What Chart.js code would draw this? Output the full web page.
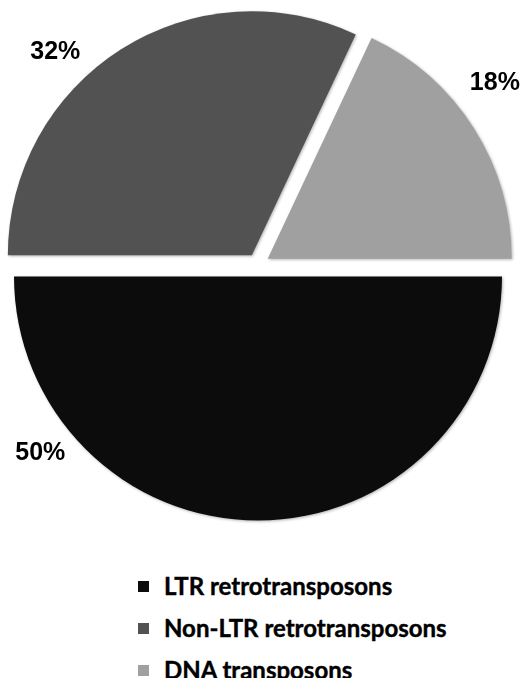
<!DOCTYPE html>
<html>
<head>
<meta charset="utf-8">
<script src="https://cdn.jsdelivr.net/npm/chart.js@4.4.0/dist/chart.umd.min.js"></script>
<style>
  html, body { margin: 0; padding: 0; background: #fff; width: 528px; height: 678px; overflow: hidden; position: relative; }
  #chart { position: absolute; left: -7px; top: 0px; }
  #legend { position: absolute; left: 138px; top: 565px; font-family: Lato, "Open Sans", sans-serif; font-weight: bold; font-size: 24px; color: #000; -webkit-text-stroke: 0.4px #000; }
  #legend .row { height: 42px; line-height: 42px; display: flex; align-items: center; }
  #legend .box { width: 11px; height: 11px; margin-right: 15px; }
</style>
</head>
<body>
<canvas id="chart" width="530" height="530"></canvas>
<div id="legend"></div>
<script>
// categories and values
var labels = ['LTR retrotransposons', 'Non-LTR retrotransposons', 'DNA transposons'];
var values = [50, 32, 18];
var colors = ['#0c0c0c', '#525252', '#a0a0a0'];

var ctx = document.getElementById('chart');

// where each percentage sits: fraction along the slice, distance in radii
var label_spots = [[0.773, 1.18], [0.403, 1.205], [0.42, 1.225]];

// pulls every slice out along its middle angle by the same distance
var explode = {
    id: 'explode',
    beforeDatasetDraw: function(chart, args, opts){
        let c = chart.ctx;
        let arcs = args.meta.data;
        for (let i=0; i<arcs.length; i++){
            let p = arcs[i].getProps(['startAngle', 'endAngle'], true);
            let mid = (p.startAngle + p.endAngle) / 2;
            c.save();
            c.shadowColor = 'rgba(0,0,0,0.3)';
            c.shadowBlur = 3;
            c.shadowOffsetX = 1;
            c.shadowOffsetY = 1;
            c.translate(Math.cos(mid) * opts.distance, Math.sin(mid) * opts.distance);
            arcs[i].draw(c);
            c.restore();
        }
        return false;
    }
};

var pctLabels = {
    id: 'pctLabels',
    afterDatasetsDraw: function(chart){
        let c = chart.ctx;
        let meta = chart.getDatasetMeta(0);
        let data = chart.data.datasets[0].data;
        let total = data.reduce(function(a, b){ return a + b; }, 0);
        c.save();
        c.font = 'bold 25px "Liberation Sans", Arial, sans-serif';
        c.fillStyle = '#000';
        c.textAlign = 'center';
        c.textBaseline = 'middle';
        for (let i=0; i<meta.data.length; i++){
            let p = meta.data[i].getProps(['x', 'y', 'startAngle', 'endAngle', 'outerRadius'], true);
            let a = p.startAngle + label_spots[i][0] * (p.endAngle - p.startAngle);
            let r = p.outerRadius * label_spots[i][1];
            let txt = Math.round(data[i] / total * 100) + '%';
            c.fillText(txt, p.x + Math.cos(a) * r, p.y + Math.sin(a) * r);
        }
        c.restore();
    }
};

var chart = new Chart(ctx, {
    type: 'pie',
    data: {
        labels: labels,
        datasets: [{
            data: values,
            backgroundColor: colors,
            borderWidth: 0,
            offset: 0,
            hoverOffset: 0
        }]
    },
    options: {
        responsive: false,
        animation: false,
        rotation: 90,
        layout: { padding: 21 },
        plugins: {
            legend: { display: false },
            tooltip: { enabled: false },
            explode: { distance: 11.5 }
        }
    },
    plugins: [explode, pctLabels]
});

// legend under the pie, one entry per line
var legend = document.getElementById('legend');
for (let i=0; i<labels.length; i++){
    let row = document.createElement('div');
    row.className = 'row';
    let box = document.createElement('span');
    box.className = 'box';
    box.style.background = colors[i];
    let txt = document.createElement('span');
    txt.textContent = labels[i];
    row.appendChild(box);
    row.appendChild(txt);
    legend.appendChild(row);
}
</script>
</body>
</html>
